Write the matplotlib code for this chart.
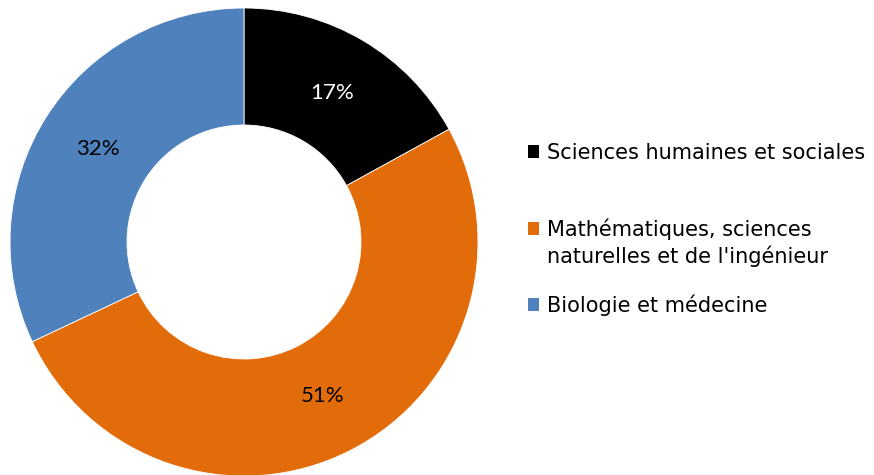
import matplotlib
matplotlib.use("Agg")
import matplotlib.pyplot as plt

# share of domains
labels = ["Sciences humaines et sociales",
          "Mathématiques, sciences\nnaturelles et de l'ingénieur",
          "Biologie et médecine"]
values = [17, 51, 32]
colors = ["#000000", "#E36C0A", "#4F81BD"]
pct_colors = ["white", "black", "black"]

fig = plt.figure(figsize=(8.74, 4.75), dpi=100)
ax = fig.add_axes([10 / 874, -1 / 475, 468 / 874, 468 / 475])

wedges, texts, autotexts = ax.pie(values, colors=colors, startangle=90, counterclock=False,
                                  radius=1, autopct="%d%%", pctdistance=0.74,
                                  wedgeprops=dict(width=0.5, edgecolor="white", linewidth=0.6),
                                  textprops=dict(fontsize=16, family="Lato"))
for t, c in zip(autotexts, pct_colors):
    t.set_color(c)
ax.set_xlim(-1, 1)
ax.set_ylim(-1, 1)
ax.set_aspect("equal")

# one legend per entry (uneven gaps); square sits on the first line of the label
entry_y = [153, 229, 305]
line_gap = 27
for w, lab, y in zip(wedges, labels, entry_y):
    first, *rest = lab.split("\n")
    leg = fig.legend([w], [first], loc="center left", bbox_to_anchor=(528 / 874, 1 - y / 475),
                     frameon=False, handlelength=0.53, handleheight=0.53, handletextpad=0.38,
                     borderpad=0, borderaxespad=0,
                     prop=dict(family="DejaVu Sans", size=15))
    for h in leg.legend_handles:
        h.set_edgecolor("none")
    if rest:
        fig.canvas.draw()
        x0 = leg.get_texts()[0].get_window_extent().x0
        for i, line in enumerate(rest, 1):
            fig.text(x0 / 874, 1 - (y + i * line_gap) / 475, line, ha="left", va="center",
                     family="DejaVu Sans", fontsize=15)

fig.savefig("out.png", dpi=100)
